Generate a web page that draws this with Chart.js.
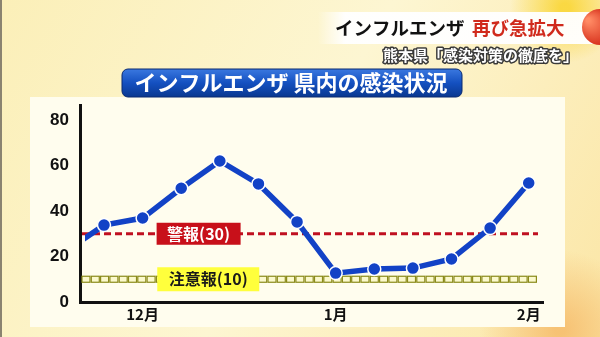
<!DOCTYPE html>
<html>
<head>
<meta charset="utf-8">
<script src="https://cdn.jsdelivr.net/npm/chart.js@4"></script>
<style>
  html, body { margin: 0; padding: 0; background: #fcf1c4; }
  #wrap { width: 600px; height: 337px; position: relative; }
</style>
</head>
<body>
<div id="wrap"><canvas id="fluChart"></canvas></div>
<script>
// weekly reports (index 0 is the week before the first marker, cut off by the axis)
const weeks = [0, 1, 2, 3, 4, 5, 6, 7, 8, 9, 10, 11, 12];
const patients = [22.2, 33.8, 36.9, 50.0, 62.0, 51.9, 35.2, 12.7, 14.5, 14.9, 18.9, 32.5, 52.3];

const monthTicks = [2, 7, 12];
const monthLabels = ["12月", "1月", "2月"];
const yTicks = [0, 20, 40, 60, 80];

const warningLevel = 30;
const advisoryLevel = 10;
const warningText = "警報(30)";
const advisoryText = "注意報(10)";

const headline = "インフルエンザ";
const headlineRed = "再び急拡大";
const subline = "熊本県「感染対策の徹底を」";
const bannerText = "インフルエンザ 県内の感染状況";

const JP = '"Noto Sans CJK JP", "Noto Sans", sans-serif';

function roundRect(ctx, x, y, w, h, r) {
    ctx.beginPath();
    ctx.moveTo(x + r, y);
    ctx.arcTo(x + w, y, x + w, y + h, r);
    ctx.arcTo(x + w, y + h, x, y + h, r);
    ctx.arcTo(x, y + h, x, y, r);
    ctx.arcTo(x, y, x + w, y, r);
    ctx.closePath();
}

const backdrop = {
    id: "backdrop",
    beforeDraw(chart) {
        const ctx = chart.ctx;
        const W = chart.width, H = chart.height;
        ctx.save();
        // yellow studio background
        let g = ctx.createLinearGradient(0, 0, W, H);
        g.addColorStop(0, "#fbefb8");
        g.addColorStop(0.5, "#fdf6d2");
        g.addColorStop(1, "#fbe6a6");
        ctx.fillStyle = g;
        ctx.fillRect(0, 0, W, H);
        let rg = ctx.createRadialGradient(565, 8, 5, 565, 8, 55);
        rg.addColorStop(0, "rgba(250,215,60,0.95)");
        rg.addColorStop(1, "rgba(250,215,60,0)");
        ctx.fillStyle = rg;
        ctx.fillRect(480, 0, 120, 80);
        rg = ctx.createRadialGradient(560, 330, 5, 560, 330, 80);
        rg.addColorStop(0, "rgba(246,190,110,0.9)");
        rg.addColorStop(1, "rgba(246,190,110,0)");
        ctx.fillStyle = rg;
        ctx.fillRect(440, 240, 160, 97);
        // left frame edge
        ctx.fillStyle = "#8a8370";
        ctx.fillRect(0, 0, 2, H);

        // plot panel
        ctx.fillStyle = "#fffdee";
        ctx.fillRect(30, 97, 535, 230);

        // header strip
        g = ctx.createLinearGradient(318, 0, 345, 0);
        g.addColorStop(0, "rgba(255,255,255,0)");
        g.addColorStop(1, "rgba(255,255,255,0.96)");
        ctx.fillStyle = g;
        ctx.fillRect(318, 12, 282, 32);

        // red ball at the edge
        rg = ctx.createRadialGradient(588, 20, 2, 596, 27, 20);
        rg.addColorStop(0, "#ff8a64");
        rg.addColorStop(1, "#d52c18");
        ctx.fillStyle = rg;
        ctx.beginPath();
        ctx.arc(600, 27, 18, 0, Math.PI * 2);
        ctx.fill();

        ctx.font = "bold 18.5px " + JP;
        ctx.textBaseline = "middle";
        ctx.textAlign = "left";
        ctx.fillStyle = "#111111";
        ctx.fillText(headline, 335, 28);
        ctx.fillStyle = "#d02a1c";
        ctx.fillText(headlineRed, 472, 28);

        // subtitle with outline
        ctx.font = "bold 15px " + JP;
        ctx.textAlign = "right";
        ctx.lineJoin = "round";
        ctx.lineWidth = 3;
        ctx.strokeStyle = "#3a3a3a";
        ctx.strokeText(subline, 578, 55);
        ctx.fillStyle = "#ffffff";
        ctx.fillText(subline, 578, 55);

        // blue title banner
        g = ctx.createLinearGradient(0, 69, 0, 97);
        g.addColorStop(0, "#3a78e0");
        g.addColorStop(0.5, "#1450c0");
        g.addColorStop(1, "#0a3890");
        ctx.fillStyle = g;
        roundRect(ctx, 122, 69, 340, 28, 6);
        ctx.fill();
        ctx.strokeStyle = "#0a2a70";
        ctx.lineWidth = 1;
        ctx.stroke();
        ctx.font = "bold 22px " + JP;
        ctx.textAlign = "center";
        ctx.fillStyle = "#ffffff";
        ctx.fillText(bannerText, 291, 83);
        ctx.restore();
    }
};

const levels = {
    id: "levels",
    beforeDatasetsDraw(chart) {
        const ctx = chart.ctx;
        const x = chart.scales.x, y = chart.scales.y;
        const left = chart.chartArea.left + 2;
        const right = chart.chartArea.right - 5;
        ctx.save();

        // warning line (red dashes)
        const yw = y.getPixelForValue(warningLevel);
        ctx.strokeStyle = "#c01020";
        ctx.lineWidth = 3;
        ctx.setLineDash([7, 4]);
        ctx.beginPath();
        ctx.moveTo(left, yw);
        ctx.lineTo(right, yw);
        ctx.stroke();
        ctx.setLineDash([]);

        // advisory line (chain of small boxes)
        const ya = y.getPixelForValue(advisoryLevel);
        ctx.lineWidth = 1.2;
        for (let px = left; px + 8 <= right; px += 9.3) {
            ctx.fillStyle = "#fbf9cc";
            ctx.fillRect(px, ya - 3, 8, 6);
            ctx.strokeStyle = "#8a8a1a";
            ctx.strokeRect(px, ya - 3, 8, 6);
        }

        ctx.font = "bold 16px " + JP;
        ctx.textAlign = "center";
        ctx.textBaseline = "middle";

        // warning label
        let cx = x.getPixelForValue(3.45);
        ctx.fillStyle = "#c8101a";
        ctx.fillRect(cx - 42, yw - 11, 84, 22);
        ctx.fillStyle = "#ffffff";
        ctx.fillText(warningText, cx, yw);

        // advisory label
        cx = x.getPixelForValue(3.7);
        ctx.fillStyle = "#ffff3c";
        ctx.fillRect(cx - 51, ya - 12, 102, 24);
        ctx.fillStyle = "#1a1a1a";
        ctx.fillText(advisoryText, cx, ya);
        ctx.restore();
    }
};

const canvas = document.getElementById("fluChart");

new Chart(canvas, {
    type: "line",
    data: {
        datasets: [{
            data: weeks.map((w, i) => ({ x: w, y: patients[i] })),
            borderColor: "#1242c6",
            borderWidth: 5.5,
            backgroundColor: "#1242c6",
            pointBackgroundColor: "#1242c6",
            pointBorderColor: "#ffffff",
            pointBorderWidth: 1.5,
            pointRadius: (c) => (c.dataIndex === 0 ? 0 : 6.5),
            tension: 0,
            clip: { left: -5, top: 10, right: 10, bottom: 10 }
        }]
    },
    options: {
        responsive: true,
        maintainAspectRatio: false,
        animation: false,
        layout: { padding: { left: 0, right: 57, top: 105, bottom: 0 } },
        plugins: {
            legend: { display: false },
            tooltip: { enabled: false }
        },
        scales: {
            x: {
                type: "linear",
                min: 0.378,
                max: 12.37,
                afterBuildTicks: (s) => { s.ticks = monthTicks.map(v => ({ value: v })); },
                afterFit: (s) => { s.height = 35; },
                grid: { display: false },
                border: { display: true, color: "#111111", width: 3 },
                ticks: {
                    callback: (v) => monthLabels[monthTicks.indexOf(v)],
                    color: "#111111",
                    font: { family: JP, size: 15, weight: "bold", lineHeight: 1 },
                    padding: -3,
                    maxRotation: 0
                }
            },
            y: {
                min: 0,
                max: 86.6,
                afterBuildTicks: (s) => { s.ticks = yTicks.map(v => ({ value: v })); },
                afterFit: (s) => { s.width = 80; },
                grid: { display: false },
                border: { display: true, color: "#111111", width: 3 },
                ticks: {
                    color: "#111111",
                    font: { family: "Liberation Sans", size: 17, weight: "bold" },
                    padding: 3
                }
            }
        }
    },
    plugins: [backdrop, levels]
});
</script>
</body>
</html>
